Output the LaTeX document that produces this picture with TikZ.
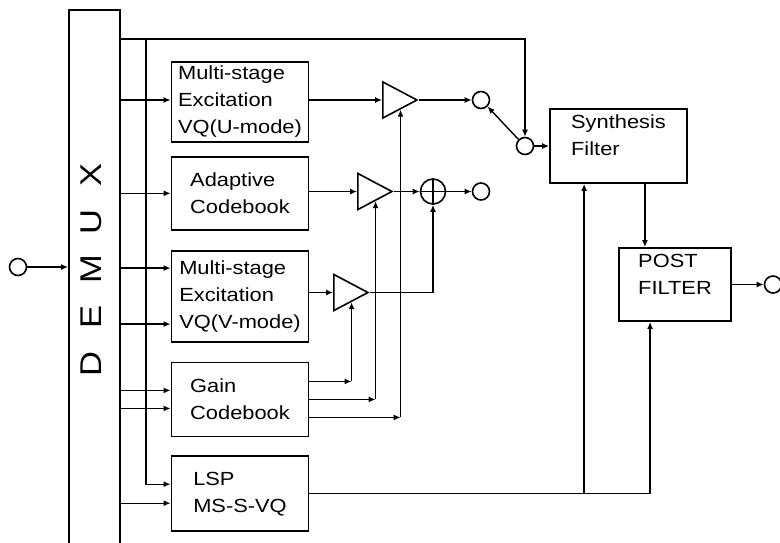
\documentclass[tikz,border=0pt]{standalone}
\usepackage{fontspec}
\setmainfont{Liberation Sans}[FakeStretch=1.15]
\usepackage{xcolor}
\usepackage{tikz}
\usetikzlibrary{
  arrows.meta,
  shapes.geometric,
  positioning,
  calc
}
\tikzset{
  vcbox/.style={
    draw, line width=0.9pt, minimum width=68.5pt, inner sep=1pt,
    align=left, font=\fontsize{9.5}{13.5}\selectfont
  },
  demuxbox/.style={draw, line width=0.9pt, minimum width=25.5pt, minimum height=280pt},
  demuxch/.style={rotate=90, inner sep=0pt, font=\fontsize{15}{15}\selectfont},
  vcamp/.style={
    draw, line width=0.8pt, isosceles triangle, isosceles triangle stretches,
    minimum width=18pt, minimum height=17pt, inner sep=0pt, anchor=apex
  },
  vcport/.style={draw, circle, line width=0.8pt, minimum size=8.5pt, inner sep=0pt},
  vcsum/.style={vcport, minimum size=12.5pt},
  sig/.style={-{Latex[length=3.5pt,width=3pt]}, line width=0.7pt},
  wire/.style={line width=0.7pt}
}

\begin{document}
\begin{tikzpicture}[x=0.5pt, y=-0.5pt, node distance=9.5pt]
  \useasboundingbox (0,0) rectangle (780,542);
  \clip (0,0) rectangle (780,542);

  % demultiplexer
  \node[demuxbox, anchor=north] (demux) at (94.5,9) {};
  \foreach \ch [count=\i] in {D,E,M,U,X}
    \node[demuxch] (dm\i) at (91,{364-47.25*(\i-1)}) {\ch};
  \node[vcport] (inp) at (18,267) {};

  % decoder blocks
  \node[vcbox, minimum height=40pt] (mseu) at (240,102)
    {Multi-stage\\Excitation\\VQ(U-mode)};
  \node[vcbox, minimum height=36.5pt, below=6.5pt of mseu] (adapt)
    {Adaptive\\Codebook};
  \node[vcbox, minimum height=45.5pt, below=of adapt] (msev)
    {Multi-stage\\Excitation\\VQ(V-mode)};
  \node[vcbox, minimum height=37pt, below=of msev] (gain)
    {Gain\\Codebook};
  \node[vcbox, minimum height=37.5pt, below=9pt of gain] (lsp)
    {LSP\\MS-S-VQ};

  % gains, sum and switch
  \node[vcamp] (ampu) at (419,100) {};
  \node[vcamp] (ampa) at (394,191.5) {};
  \node[vcamp] (ampv) at (370,292.5) {};
  \node[vcsum] (sum) at (433,191.5) {};
  \node[vcport] (ucirc) at (481,100) {};
  \node[vcport] (acirc) at (481,191.5) {};
  \node[vcport] (swc) at (525,146) {};

  % filters
  \node[vcbox, minimum height=37pt] (synth) at (618.5,146)
    {Synthesis\\Filter\\[-3pt]\mbox{}};
  \node[vcbox, minimum width=56pt, minimum height=36.5pt] (post) at (675,284.5)
    {POST\\FILTER\\[-3pt]\mbox{}};
  \node[vcport] (outc) at (773,284.5) {};

  % demux outputs
  \draw[sig] (inp) -- (inp -| demux.west);
  \coordinate (bustop) at (146,39);
  \draw[sig] (demux.east |- bustop) -| (swc);
  \draw[sig] (bustop) |- ($(lsp.west)+(0,-9.5)$);
  \draw[sig] (demux.east |- ampu.west) -- (mseu.west |- ampu.west);
  \draw[sig] (demux.east |- adapt.west) -- (adapt.west);
  \foreach \b/\dy in {msev/-28, msev/28, gain/-9, gain/9, lsp/9.5} {
    \path ($(\b.west)+(0,\dy)$) coordinate (t);
    \draw[sig] (demux.east |- t) -- (t);
  }

  % excitation paths
  \draw[sig] (mseu.east |- ampu.west) -- (ampu.west);
  \draw[sig] (adapt.east |- ampa.west) -- (ampa.west);
  \draw[sig] (msev.east |- ampv.west) -- (ampv.west);
  \draw[sig] (ampu.apex) -- (ucirc);
  \draw[sig] (ampa.apex) -- (sum);
  \draw[sig] (sum) -- (acirc);
  \draw[sig] (ampv.apex) -| (sum);
  \draw[wire] (sum.north) -- (sum.south) (sum.west) -- (sum.east);
  \foreach \a/\dy in {ampv/-18, ampa/0, ampu/18} {
    \path ($(gain.east)+(0,\dy)$) coordinate (g);
    \draw[sig] (g) -- (g -| \a.right side);
    \draw[sig] (g -| \a.right side) -- (\a.right side);
  }

  % switch and filters
  \draw[sig] (swc.north west) -- (ucirc.south east);
  \draw[sig] (swc) -- (synth);
  \path ($(synth.south east)+(-43,0)$) coordinate (sp);
  \draw[sig] (sp) -- (sp |- post.north);
  \draw[sig] (post) -- (outc);
  \path ($(post.south west)+(32,0)$) coordinate (pp);
  \draw[sig] (lsp.east) -| (pp);
  \path ($(synth.south west)+(35,0)$) coordinate (ss);
  \draw[sig] (ss |- lsp.east) -- (ss);
\end{tikzpicture}
\end{document}
